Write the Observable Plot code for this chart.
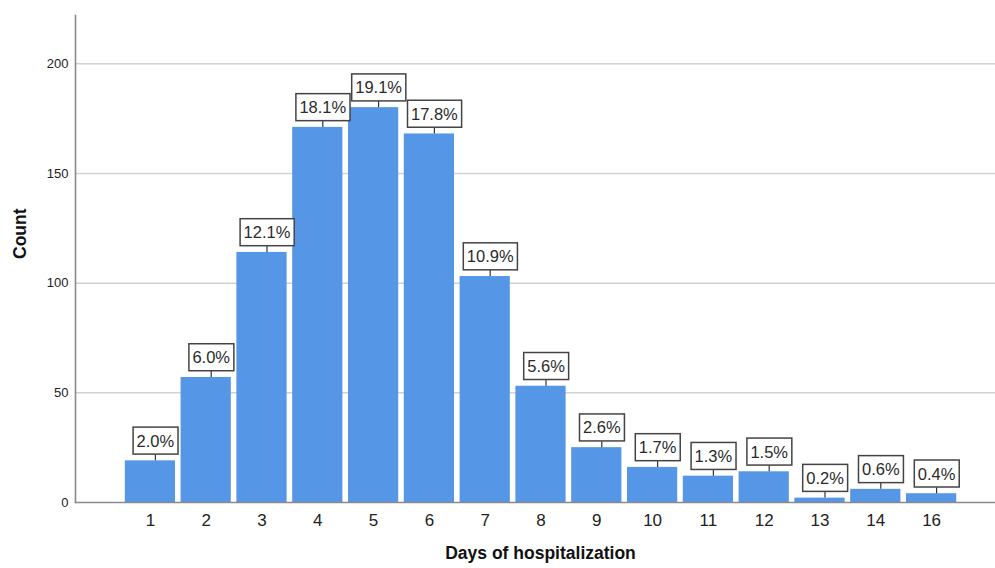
<!DOCTYPE html>
<html>
<head>
<meta charset="utf-8">
<script src="https://cdn.jsdelivr.net/npm/d3@7"></script>
<script src="https://cdn.jsdelivr.net/npm/@observablehq/plot@0.6"></script>
<style>
  html, body { margin: 0; padding: 0; background: #fff; }
</style>
</head>
<body>
<div id="chart"></div>
<script>
const days = ["1", "2", "3", "4", "5", "6", "7", "8", "9", "10", "11", "12", "13", "14", "16"];
const counts = [19, 57, 114, 171, 180, 168, 103, 53, 25, 16, 12, 14, 2, 6, 4];
const percents = ["2.0%", "6.0%", "12.1%", "18.1%", "19.1%", "17.8%", "10.9%", "5.6%", "2.6%", "1.7%", "1.3%", "1.5%", "0.2%", "0.6%", "0.4%"];
const yTicks = [0, 50, 100, 150, 200];

const data = days.map((d, i) => ({ day: d, count: counts[i], pct: percents[i] }));

const chart = Plot.plot({
  width: 995,
  height: 568,
  marginLeft: 75,
  marginTop: 15,
  marginBottom: 66,
  marginRight: 0,
  style: { fontFamily: "'Liberation Sans', Arial, sans-serif", background: "white", color: "#222" },
  x: { domain: days, range: [122, 959], paddingInner: 0.1, paddingOuter: 0.05, round: false, label: null },
  y: { domain: [0, 222], label: null },
  marks: [
    Plot.gridY(yTicks.filter(t => t > 0), { stroke: "#d2d2d2", strokeOpacity: 1, strokeWidth: 1.5 }),
    Plot.barY(data, { x: "day", y: "count", fill: "#5596e6" }),
    Plot.ruleX(data, { x: "day", y1: "count", y2: "count", insetTop: -6, dx: 5, stroke: "#333", strokeWidth: 1.2 }),
    Plot.text(data, { x: "day", y: "count", text: "pct", dx: 5, dy: -19.5, fontSize: 16.5, fill: "#2a2a2a", className: "pct-labels" }),
    Plot.axisY({ ticks: yTicks, tickSize: 0, tickPadding: 7, fontSize: 13, label: null }),
    Plot.axisX({ tickSize: 0, tickPadding: 11, fontSize: 17, label: null }),
    Plot.frame({ anchor: "left", stroke: "#8a8a8a", strokeWidth: 1.6 }),
    Plot.frame({ anchor: "bottom", stroke: "#8a8a8a", strokeWidth: 1.6 }),
    Plot.text(["Count"], { frameAnchor: "left", dx: -55, rotate: -90, fontSize: 17.5, fontWeight: "bold", fill: "#111" }),
    Plot.text(["Days of hospitalization"], { frameAnchor: "bottom", dx: 5, dy: 56, fontSize: 17.5, fontWeight: "bold", fill: "#111" })
  ]
});

document.getElementById("chart").appendChild(chart);

// Draw label boxes around the percentage texts
const g = chart.querySelector("g.pct-labels");
if (g) {
  g.querySelectorAll("text").forEach(t => {
    const b = t.getBBox();
    const r = document.createElementNS("http://www.w3.org/2000/svg", "rect");
    const cy = b.y + b.height / 2;
    r.setAttribute("x", b.x - 3.5);
    r.setAttribute("y", cy - 13.5);
    r.setAttribute("width", b.width + 7);
    r.setAttribute("height", 27);
    r.setAttribute("fill", "white");
    r.setAttribute("stroke", "#444");
    r.setAttribute("stroke-width", 1.5);
    const tr = t.getAttribute("transform");
    if (tr) r.setAttribute("transform", tr);
    g.insertBefore(r, t);
  });
}
</script>
</body>
</html>
